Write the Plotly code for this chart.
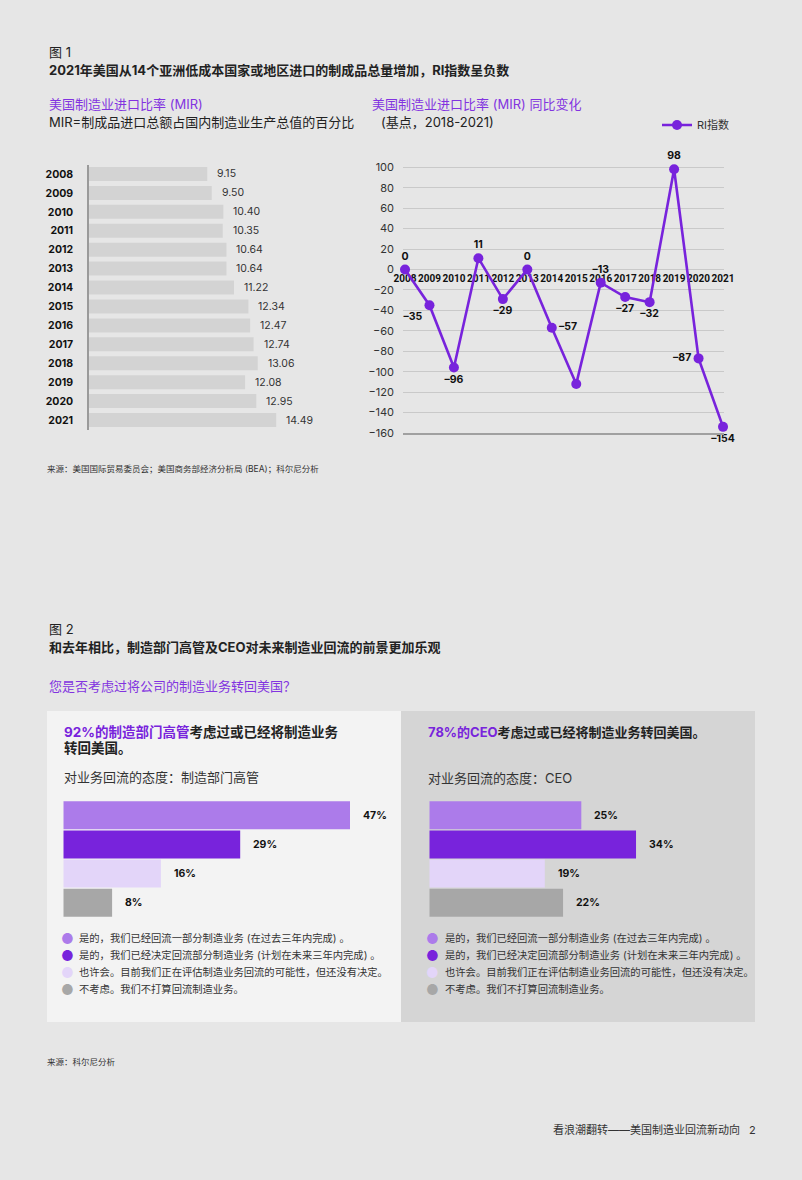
import plotly.graph_objects as go

# ---------------- data ----------------
mir_years = ["2008", "2009", "2010", "2011", "2012", "2013", "2014",
             "2015", "2016", "2017", "2018", "2019", "2020", "2021"]
mir_values = [9.15, 9.50, 10.40, 10.35, 10.64, 10.64, 11.22,
              12.34, 12.47, 12.74, 13.06, 12.08, 12.95, 14.49]

ri_years = [2008, 2009, 2010, 2011, 2012, 2013, 2014,
            2015, 2016, 2017, 2018, 2019, 2020, 2021]
ri_values = [0, -35, -96, 11, -29, 0, -57, -112, -13, -27, -32, 98, -87, -154]
ri_labels = ["0", "–35", "–96", "11", "–29", "0", "–57", "",
             "–13", "–27", "–32", "98", "–87", "–154"]

attitude_labels = [
    "是的，我们已经回流一部分制造业务 (在过去三年内完成) 。",
    "是的，我们已经决定回流部分制造业务 (计划在未来三年内完成) 。",
    "也许会。目前我们正在评估制造业务回流的可能性，但还没有决定。",
    "不考虑。我们不打算回流制造业务。",
]
exec_pct = [47, 29, 16, 8]
ceo_pct = [25, 34, 19, 22]

# ---------------- style ----------------
W, H = 802, 1180
FONT = "Inter, 'Noto Sans CJK SC', sans-serif"
NUMFONT = "Roboto, Inter, sans-serif"
PURPLE = "#7823DC"
PURPLE_TXT = "#8233E0"
DARK = "#222222"
GREY_TXT = "#333333"
BG = "#E6E6E6"
att_colors = ["#AC7BEA", "#7823DC", "#E3D5F9", "#A7A7A7"]
ri_text_pos = ["top center", "bottom left", "bottom center", "top center",
               "bottom center", "top center", "middle right", "top center",
               "top center", "bottom center", "bottom center", "top center",
               "middle left", "bottom center"]


def px(x):
    return x / W


def py(y):
    return 1 - y / H


fig = go.Figure()

# --- Figure 1 left: MIR horizontal bars ---
fig.add_trace(go.Bar(
    x=mir_values, y=mir_years, orientation="h", width=0.74,
    marker=dict(color="#D3D3D3", line=dict(width=0)),
    xaxis="x", yaxis="y", showlegend=False, hoverinfo="skip",
))

# --- Figure 1 right: RI index line ---
fig.add_trace(go.Scatter(
    x=ri_years, y=ri_values, mode="lines+markers+text",
    text=ri_labels, textposition=ri_text_pos,
    textfont=dict(size=10.5, color="#111111", family=FONT, weight="bold"),
    line=dict(color=PURPLE, width=2.6),
    marker=dict(color=PURPLE, size=10),
    name="RI指数", xaxis="x3", yaxis="y2", cliponaxis=False,
    showlegend=True, hoverinfo="skip",
))
# invisible carrier for the bottom axis line
fig.add_trace(go.Scatter(
    x=ri_years, y=ri_values, mode="none", xaxis="x2", yaxis="y2",
    showlegend=False, hoverinfo="skip",
))

# --- Figure 2: attitude bars ---
fig.add_trace(go.Bar(
    x=exec_pct, y=attitude_labels, orientation="h", width=0.96,
    marker=dict(color=att_colors, line=dict(width=0)),
    xaxis="x4", yaxis="y4", showlegend=False, hoverinfo="skip",
))
fig.add_trace(go.Bar(
    x=ceo_pct, y=attitude_labels, orientation="h", width=0.96,
    marker=dict(color=att_colors, line=dict(width=0)),
    xaxis="x5", yaxis="y5", showlegend=False, hoverinfo="skip",
))

annotations = []


def txt(x, y, s, size=13, color=DARK, bold=False, xanchor="left"):
    annotations.append(dict(
        x=px(x), y=py(y), xref="paper", yref="paper", text=s,
        showarrow=False, xanchor=xanchor, yanchor="middle",
        font=dict(size=size, color=color, family=FONT,
                  weight="bold" if bold else "normal"),
    ))


# value labels, top-left bars (category index on the category axis)
for i, v in enumerate(mir_values):
    annotations.append(dict(
        x=v, y=i, xref="x", yref="y", text=f"{v:.2f}", showarrow=False,
        xanchor="left", yanchor="middle", xshift=8,
        font=dict(size=10.5, color=GREY_TXT, family=FONT),
    ))

# value labels, figure 2 bars
for ax, vals in (("4", exec_pct), ("5", ceo_pct)):
    for i, v in enumerate(vals):
        annotations.append(dict(
            x=v, y=i, xref="x" + ax, yref="y" + ax, text=f"{v}%",
            showarrow=False, xanchor="left", yanchor="middle", xshift=11,
            font=dict(size=10.5, color="#111111", family=FONT, weight="bold"),
        ))

# texts figure 1
txt(47, 52, "图 1", 13, DARK)
txt(47, 70, "2021年美国从14个亚洲低成本国家或地区进口的制成品总量增加，RI指数呈负数", 13, DARK, True)
txt(47, 104, "美国制造业进口比率 (MIR)", 13, PURPLE_TXT)
txt(47, 122, "MIR=制成品进口总额占国内制造业生产总值的百分比", 13, DARK)
txt(370, 104, "美国制造业进口比率 (MIR) 同比变化", 13, PURPLE_TXT)
txt(379, 122, "(基点，2018-2021)", 13, DARK)
txt(45, 469, "来源：美国国际贸易委员会；美国商务部经济分析局 (BEA)；科尔尼分析", 8.5, GREY_TXT)

# texts figure 2
txt(47, 629, "图 2", 13, DARK)
txt(47, 647, "和去年相比，制造部门高管及CEO对未来制造业回流的前景更加乐观", 13, DARK, True)
txt(47, 686, "您是否考虑过将公司的制造业务转回美国？", 13, PURPLE_TXT)
txt(62, 732, f"<span style='color:{PURPLE}'>92%的制造部门高管</span>考虑过或已经将制造业务", 13.5, DARK, True)
txt(62, 748, "转回美国。", 13.5, DARK, True)
txt(62, 777, "对业务回流的态度：制造部门高管", 13, GREY_TXT)
txt(426, 732, f"<span style='color:{PURPLE}'>78%的CEO</span>考虑过或已经将制造业务转回美国。", 13, DARK, True)
txt(426, 778, "对业务回流的态度：CEO", 13, GREY_TXT)

legend_rows = [938, 955, 972, 989]
for dot_x, text_x in ((67, 77), (433, 443)):
    for c, lab, ry in zip(att_colors, attitude_labels, legend_rows):
        txt(dot_x, ry, "●", 14, c, xanchor="center")
        txt(text_x, ry, lab, 10.3, GREY_TXT)

txt(45, 1062, "来源：科尔尼分析", 8.5, GREY_TXT)
txt(551, 1130, "看浪潮翻转——美国制造业回流新动向", 11, GREY_TXT)
txt(752, 1130, "2", 11, GREY_TXT, xanchor="center")

shapes = [
    dict(type="rect", xref="paper", yref="paper", x0=px(47), x1=px(401),
         y0=py(1022), y1=py(711), fillcolor="#F3F3F3", line=dict(width=0), layer="below"),
    dict(type="rect", xref="paper", yref="paper", x0=px(401), x1=px(755),
         y0=py(1022), y1=py(711), fillcolor="#D5D5D5", line=dict(width=0), layer="below"),
]

hidden = dict(showgrid=False, zeroline=False, showticklabels=False, ticks="",
              showline=False, automargin=False)

fig.update_layout(
    template="none",
    width=W, height=H, margin=dict(l=0, r=0, t=0, b=0, pad=0, autoexpand=False),
    paper_bgcolor=BG, plot_bgcolor="rgba(0,0,0,0)",
    font=dict(family=FONT, color=GREY_TXT),
    annotations=annotations, shapes=shapes,
    showlegend=True,
    legend=dict(x=px(657), y=py(125), xanchor="left", yanchor="middle",
                bgcolor="rgba(0,0,0,0)", borderwidth=0,
                font=dict(size=11, color=GREY_TXT, family=FONT),
                itemwidth=30),
    # top-left bars
    xaxis=dict(domain=[px(89), px(89 + 12.92 * 16)], range=[0, 16], anchor="y", **hidden),
    yaxis=dict(domain=[py(429.5), py(164.5)], type="category",
               categoryorder="array", categoryarray=mir_years,
               range=[13.5, -0.5], autorange=False, automargin=False,
               showgrid=False, zeroline=False, ticks="",
               showline=True, linecolor="#9A9A9A", linewidth=1.5,
               tickfont=dict(size=10.5, color="#111111", family=FONT, weight="bold"),
               ticklabelstandoff=12, anchor="x"),
    # line chart
    xaxis2=dict(domain=[px(403), px(724)], range=[2007.918, 2021.04], autorange=False,
                anchor="y2", automargin=False,
                showgrid=False, zeroline=False, showticklabels=False, ticks="",
                showline=True, linecolor="#A0A0A0", linewidth=2),
    xaxis3=dict(overlaying="x2", range=[2007.918, 2021.04], autorange=False,
                anchor="free", position=py(269.3), automargin=False,
                tickmode="array", tickvals=ri_years, ticktext=[str(y) for y in ri_years],
                tickangle=0,
                showgrid=False, zeroline=False, showline=False, ticks="",
                tickfont=dict(size=10, color="#111111", family=NUMFONT, weight="bold"),
                layer="below traces", ticklabelstandoff=2),
    yaxis2=dict(domain=[py(433), py(157)], range=[-160, 110], autorange=False,
                anchor="x2", automargin=False,
                tickmode="linear", tick0=0, dtick=20,
                showgrid=True, gridcolor="#C9C9C9", gridwidth=1,
                zeroline=False, showline=False, ticks="",
                tickfont=dict(size=11, color=GREY_TXT, family=FONT),
                ticklabelstandoff=8),
    # figure 2 bars
    xaxis4=dict(domain=[px(63.3), px(63.3 + 6.1 * 50)], range=[0, 50], anchor="y4", **hidden),
    yaxis4=dict(domain=[py(917.3), py(800.7)], type="category",
                categoryorder="array", categoryarray=attitude_labels,
                range=[3.5, -0.5], anchor="x4", **hidden),
    xaxis5=dict(domain=[px(429.3), px(429.3 + 6.08 * 50)], range=[0, 50], anchor="y5", **hidden),
    yaxis5=dict(domain=[py(917.3), py(800.7)], type="category",
                categoryorder="array", categoryarray=attitude_labels,
                range=[3.5, -0.5], anchor="x5", **hidden),
)

fig.write_html("out.html")
